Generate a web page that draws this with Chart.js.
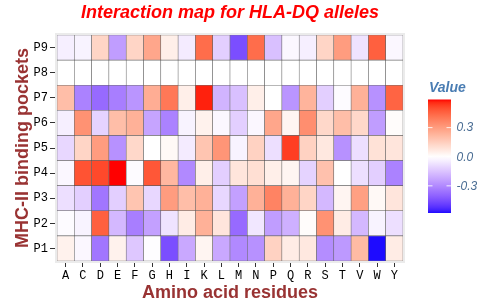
<!DOCTYPE html>
<html>
<head>
<meta charset="utf-8">
<script src="https://cdn.jsdelivr.net/npm/chart.js@4/dist/chart.umd.min.js"></script>
<style>html,body{margin:0;padding:0;background:#ffffff;}canvas{display:block;}</style>
</head>
<body>
<canvas id="c" width="493" height="307"></canvas>
<script>
// ---- data ----
const residues = ['A','C','D','E','F','G','H','I','K','L','M','N','P','Q','R','S','T','V','W','Y'];
const pockets  = ['P1','P2','P3','P4','P5','P6','P7','P8','P9'];
const p1 = [ 0.04,-0.02,-0.35, 0.04,-0.14,-0.005,-0.45,-0.22, 0.03,-0.22,-0.30,-0.28, 0.14, 0.06, 0.07,-0.29,-0.26, 0.21,-0.58, 0.06];
const p2 = [-0.01,-0.03, 0.46,-0.18,-0.33,-0.24,-0.07, 0.06, 0.24, 0.08,-0.38,-0.06,-0.25,-0.20, 0.01, 0.33, 0.06,-0.18,-0.03,-0.08];
const p3 = [-0.08,-0.12,-0.35,-0.12, 0.18,-0.10, 0.30, 0.20, 0.24,-0.10,-0.24, 0.24, 0.37, 0.24, 0.13,-0.18, 0.03, 0.29, 0.02, 0.08];
const p4 = [-0.02, 0.49, 0.51, 0.59,-0.01, 0.48, 0.22,-0.30, 0.05,-0.12, 0.08, 0.10, 0.05, 0.03,-0.11, 0.19, 0.00,-0.08,-0.12,-0.32];
const p5 = [-0.10, 0.13, 0.30,-0.28, 0.12, 0.00, 0.02,-0.05, 0.18, 0.32,-0.03, 0.14,-0.08, 0.53, 0.14, 0.07,-0.28,-0.08, 0.09, 0.08];
const p6 = [-0.04, 0.33,-0.11, 0.20, 0.24,-0.23,-0.32,-0.03, 0.04,-0.02,-0.12,-0.02, 0.27, 0.03, 0.34, 0.12, 0.20, 0.12,-0.25, 0.01];
const p7 = [ 0.20,-0.32,-0.38,-0.33,-0.27, 0.25, 0.40, 0.05, 0.57,-0.19,-0.16, 0.05, 0.00,-0.27, 0.23,-0.12,-0.01, 0.24,-0.28, 0.45];
const p8 = [ 0.00, 0.00, 0.00, 0.00, 0.00, 0.00, 0.00, 0.00, 0.00, 0.00, 0.00, 0.00, 0.00, 0.00, 0.00, 0.00, 0.00, 0.00, 0.00, 0.00];
const p9 = [-0.04,-0.03, 0.13,-0.25, 0.13, 0.27, 0.05,-0.05, 0.43,-0.12,-0.45, 0.43,-0.16,-0.02,-0.04, 0.13, 0.30,-0.07, 0.46,-0.02];
const rows = [p1,p2,p3,p4,p5,p6,p7,p8,p9];
const legendTicks = [0.3, 0.0, -0.3];
const legendTickLabels = ['0.3','0.0','-0.3'];

// ---- colour scale (diverging, Lab interpolation: blue - white - red) ----
const allVals = rows.flat();
const vMin = Math.min(...allVals), vMax = Math.max(...allVals);
const maxAbs = Math.max(Math.abs(vMin), Math.abs(vMax));
function s2l(c){c/=255;return c<=0.04045?c/12.92:Math.pow((c+0.055)/1.055,2.4);}
function l2s(c){c=c<=0.0031308?12.92*c:1.055*Math.pow(c,1/2.4)-0.055;return Math.max(0,Math.min(255,Math.round(c*255)));}
function toLab(rgb){const r=s2l(rgb[0]),g=s2l(rgb[1]),b=s2l(rgb[2]);
  const x=(0.4124564*r+0.3575761*g+0.1804375*b)/0.95047;
  const y=(0.2126729*r+0.7151522*g+0.0721750*b);
  const z=(0.0193339*r+0.1191920*g+0.9503041*b)/1.08883;
  const f=t=>t>0.008856?Math.cbrt(t):(7.787*t+16/116);
  return [116*f(y)-16,500*(f(x)-f(y)),200*(f(y)-f(z))];}
function fromLab(lab){const fy=(lab[0]+16)/116,fx=fy+lab[1]/500,fz=fy-lab[2]/200;
  const fi=t=>{const t3=t*t*t;return t3>0.008856?t3:(t-16/116)/7.787;};
  const x=fi(fx)*0.95047,y=fi(fy),z=fi(fz)*1.08883;
  return [l2s(3.2404542*x-1.5371385*y-0.4985314*z),l2s(-0.9692660*x+1.8760108*y+0.0415560*z),l2s(0.0556434*x-0.2040259*y+1.0572252*z)];}
const LOW=toLab([0,0,255]), MID=toLab([255,255,255]), HIGH=toLab([255,0,0]);
function colorFor(v){
  const t=v/maxAbs/2+0.5;
  let a,b,s;
  if(t>=0.5){a=MID;b=HIGH;s=(t-0.5)*2;}else{a=MID;b=LOW;s=(0.5-t)*2;}
  s=Math.max(0,Math.min(1,s));
  const lab=[a[0]+(b[0]-a[0])*s,a[1]+(b[1]-a[1])*s,a[2]+(b[2]-a[2])*s];
  const c=fromLab(lab);
  return 'rgb('+c[0]+','+c[1]+','+c[2]+')';
}

// ---- datasets: one stacked row per pocket ----
const datasets = rows.map((vals,i)=>({
  label: pockets[i],
  data: vals.map(()=>1),
  backgroundColor: vals.map(colorFor),
  borderColor: 'rgba(70,70,70,0.7)',
  borderWidth: 0.6,
  borderSkipped: false,
  categoryPercentage: 1,
  barPercentage: 1
}));

const panelPlugin = {
  id:'panel',
  beforeDatasetsDraw(chart){
    const {ctx, chartArea:a} = chart;
    ctx.save();
    ctx.fillStyle='#ebebeb';
    ctx.fillRect(a.left-2, a.top-2, a.right-a.left+4, a.bottom-a.top+4);
    ctx.restore();
  }
};

const colorbarPlugin = {
  id:'colorbar',
  afterDraw(chart){
    const ctx = chart.ctx;
    const x0=428, x1=451, y0=99.5, y1=213;
    ctx.save();
    const g = ctx.createLinearGradient(0,y0,0,y1);
    const N=40;
    for(let i=0;i<=N;i++){
      const v = vMax - (vMax-vMin)*i/N;
      g.addColorStop(i/N, colorFor(v));
    }
    ctx.fillStyle=g;
    ctx.fillRect(x0,y0,x1-x0,y1-y0);
    ctx.strokeStyle='rgba(255,255,255,0.85)';
    ctx.lineWidth=1;
    ctx.font='italic 12px "Liberation Sans", Arial, sans-serif';
    ctx.fillStyle='#4a6d94';
    ctx.textAlign='left';
    ctx.textBaseline='middle';
    legendTicks.forEach((v,i)=>{
      const y = y0 + (vMax - v)/(vMax-vMin)*(y1-y0);
      ctx.beginPath();
      ctx.moveTo(x0,y); ctx.lineTo(x0+4.5,y);
      ctx.moveTo(x1-4.5,y); ctx.lineTo(x1,y);
      ctx.stroke();
      ctx.fillText(legendTickLabels[i], 456.5, y+0.5);
    });
    ctx.font='italic bold 14px "Liberation Sans", Arial, sans-serif';
    ctx.fillStyle='#4a7db3';
    ctx.textBaseline='alphabetic';
    ctx.fillText('Value', 429, 92);
    ctx.restore();
  }
};

new Chart(document.getElementById('c'), {
  type:'bar',
  data:{ labels: residues, datasets },
  plugins:[panelPlugin, colorbarPlugin],
  options:{
    responsive:false,
    animation:false,
    events:[],
    layout:{ padding:{left:0,right:90,top:0,bottom:0} },
    plugins:{
      legend:{display:false},
      tooltip:{enabled:false},
      title:{
        display:true,
        fullSize:false,
        text:'Interaction map for HLA-DQ alleles',
        color:'#ff0000',
        font:{family:'"Liberation Sans", Arial, sans-serif', size:18, weight:'bold', style:'italic', lineHeight:1.2},
        padding:{top:2.4, bottom:11}
      }
    },
    scales:{
      x:{
        stacked:true,
        offset:true,
        afterFit(s){ s.height = 46; },
        grid:{display:true, offset:false, drawOnChartArea:false, drawTicks:true, tickLength:6, tickColor:'#333333', tickWidth:1},
        border:{display:false},
        ticks:{color:'#000000', padding:2, autoSkip:false, maxRotation:0,
               font:{family:'"Liberation Mono", "Courier New", monospace', size:12}},
        title:{display:true, text:'Amino acid residues', color:'#993333',
               font:{family:'"Liberation Sans", Arial, sans-serif', size:18, weight:'bold', lineHeight:1.2},
               padding:{top:0,bottom:3}}
      },
      y:{
        stacked:true,
        min:0, max:9,
        afterFit(s){ s.width = 57; },
        afterBuildTicks(s){ s.ticks = pockets.map((p,i)=>({value:i+0.5})); },
        grid:{display:true, drawOnChartArea:false, drawTicks:true, tickLength:7, tickColor:'#333333', tickWidth:1},
        border:{display:false},
        ticks:{color:'#000000', padding:2, autoSkip:false,
               callback:(v)=>pockets[Math.round(v-0.5)],
               font:{family:'"Liberation Mono", "Courier New", monospace', size:12}},
        title:{display:true, text:'MHC-II binding pockets', color:'#993333',
               font:{family:'"Liberation Sans", Arial, sans-serif', size:18, weight:'bold', lineHeight:1.2},
               padding:{top:12,bottom:0}}
      }
    }
  }
});
</script>
</body>
</html>
